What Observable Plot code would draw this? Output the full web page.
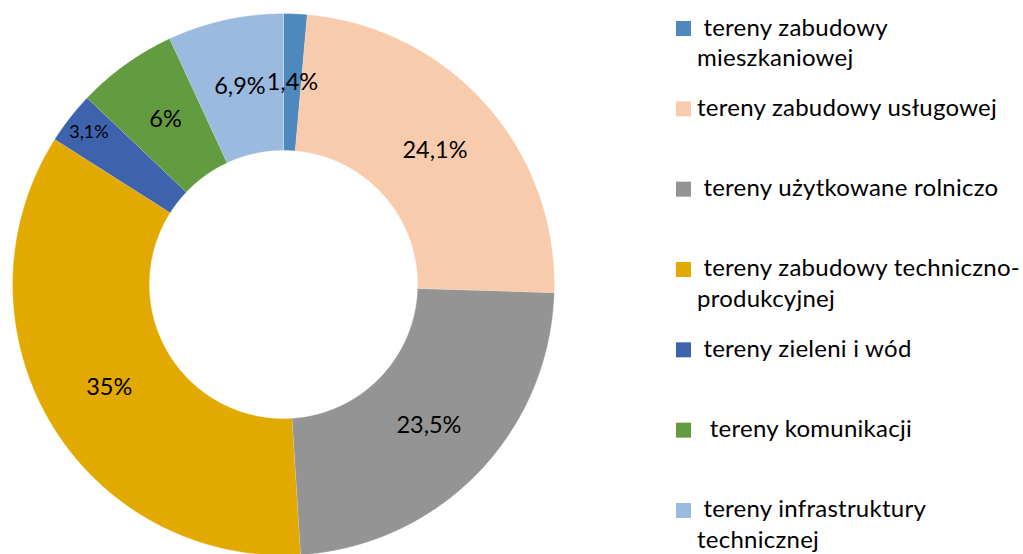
<!DOCTYPE html>
<html>
<head>
<meta charset="utf-8">
<script src="https://cdn.jsdelivr.net/npm/d3@7"></script>
<script src="https://cdn.jsdelivr.net/npm/@observablehq/plot@0.6"></script>
<style>
  html, body { margin: 0; padding: 0; background: #fff; }
  #wrap { position: relative; width: 1023px; height: 554px; overflow: hidden; }
  #wrap svg { position: absolute; left: 0; top: 0; }
  .legend text { white-space: pre; }
</style>
</head>
<body>
<div id="wrap"></div>
<script>
// ---- data ----
const categories = [
  "tereny zabudowy mieszkaniowej",
  "tereny zabudowy usługowej",
  "tereny użytkowane rolniczo",
  "tereny zabudowy techniczno-produkcyjnej",
  "tereny zieleni i wód",
  "tereny komunikacji",
  "tereny infrastruktury technicznej"
];
const values = [1.4, 24.1, 23.5, 35, 3.1, 6, 6.9];
const colors = ["#4F88BD", "#F8CBAD", "#949494", "#E2A900", "#3D63AD", "#639B41", "#9ABAE0"];
const legendLines = [
  [" tereny zabudowy", "mieszkaniowej"],
  ["tereny zabudowy usługowej"],
  [" tereny użytkowane rolniczo"],
  [" tereny zabudowy techniczno-", "produkcyjnej"],
  [" tereny zieleni i wód"],
  ["  tereny komunikacji"],
  [" tereny infrastruktury", "technicznej"]
];

// ---- geometry (in data units, outer radius = 1) ----
const innerR = 134 / 271;
const labelR = (1 + innerR) / 2;
const total = d3.sum(values);
let cum = 0;
const slices = values.map((v, i) => {
  const a0 = cum / total * 2 * Math.PI;
  cum += v;
  const a1 = cum / total * 2 * Math.PI;
  return {cat: categories[i], value: v, a0, a1, mid: (a0 + a1) / 2, small: v === 3.1};
});
const pts = [];
for (const s of slices) {
  const n = Math.max(2, Math.ceil((s.a1 - s.a0) / (Math.PI / 720)));
  for (let k = 0; k <= n; k++) {
    const t = s.a0 + (s.a1 - s.a0) * k / n;
    pts.push({cat: s.cat, x: Math.sin(t), y: Math.cos(t)});
  }
  for (let k = n; k >= 0; k--) {
    const t = s.a0 + (s.a1 - s.a0) * k / n;
    pts.push({cat: s.cat, x: innerR * Math.sin(t), y: innerR * Math.cos(t)});
  }
}
const fmt = v => String(v).replace(".", ",") + "%";

const chart = Plot.plot({
  width: 1023,
  height: 554,
  margin: 0,
  style: {fontFamily: "Lato, 'Open Sans', sans-serif", background: "transparent"},
  x: {domain: [-1, 1], range: [12, 554], axis: null},
  y: {domain: [-1, 1], range: [555, 13], axis: null},
  color: {domain: categories, range: colors},
  marks: [
    Plot.line(pts, {x: "x", y: "y", z: "cat", fill: "cat", stroke: "white", strokeWidth: 0.6, strokeOpacity: 0.6, curve: "linear"}),
    Plot.text(slices, {
      x: d => (d.small ? 0.911 : labelR) * Math.sin(d.mid),
      y: d => (d.small ? 0.911 : labelR) * Math.cos(d.mid),
      text: d => fmt(d.value),
      fontSize: d => d.small ? 18 : 23.5,
      fill: "#000"
    })
  ]
});
document.getElementById("wrap").appendChild(chart);

// ---- legend ----
const lg = d3.select("#wrap").append("svg")
  .attr("class", "legend")
  .attr("width", 1023).attr("height", 554)
  .style("font-family", "Lato, 'Open Sans', sans-serif")
  .style("font-size", "24px")
  .style("letter-spacing", "0.25px");
categories.forEach((c, i) => {
  const top = 21 + i * 80.33;
  lg.append("rect").attr("x", 676).attr("y", top).attr("width", 15).attr("height", 15).attr("fill", colors[i]);
  legendLines[i].forEach((line, j) => {
    lg.append("text")
      .attr("x", 697)
      .attr("y", top + 14.5 + j * 30.5)
      .attr("fill", "#000")
      .text(line);
  });
});
</script>
</body>
</html>
